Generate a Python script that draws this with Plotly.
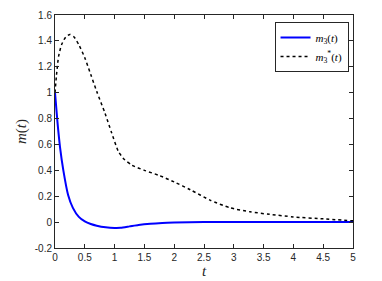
import plotly.graph_objects as go

t_m3 = [0, 0.04, 0.084, 0.14, 0.22, 0.3, 0.4, 0.5, 0.6, 0.7, 0.85, 1.0, 1.1, 1.25, 1.4, 1.6, 1.8, 2.0, 2.5, 3.0, 4.0, 5.0]
m3 = [1.0, 0.78, 0.58, 0.40, 0.21, 0.11, 0.04, 0.005, -0.015, -0.028, -0.04, -0.045, -0.044, -0.033, -0.022, -0.012, -0.006, -0.003, 0.0, 0.001, 0.0, 0.0]

t_m3s = [0, 0.03, 0.06, 0.11, 0.18, 0.25, 0.32, 0.4, 0.5, 0.6, 0.7, 0.84, 0.95, 1.06, 1.15, 1.29, 1.5, 1.75, 2.0, 2.27, 2.6, 2.94, 3.27, 3.6, 4.0, 4.5, 5.0]
m3s = [1.0, 1.16, 1.28, 1.37, 1.43, 1.45, 1.43, 1.37, 1.27, 1.14, 1.01, 0.84, 0.69, 0.55, 0.49, 0.44, 0.40, 0.36, 0.31, 0.25, 0.17, 0.11, 0.08, 0.06, 0.04, 0.025, 0.01]

x_ticks = [0, 0.5, 1, 1.5, 2, 2.5, 3, 3.5, 4, 4.5, 5]
x_labels = ["0", "0.5", "1", "1.5", "2", "2.5", "3", "3.5", "4", "4.5", "5"]
y_ticks = [-0.2, 0, 0.2, 0.4, 0.6, 0.8, 1, 1.2, 1.4, 1.6]
y_labels = ["-0.2", "0", "0.2", "0.4", "0.6", "0.8", "1", "1.2", "1.4", "1.6"]

fig = go.Figure()
fig.add_trace(go.Scatter(x=t_m3, y=m3, mode="lines", line=dict(color="#0000ff", width=2, shape="spline", smoothing=0.6),
                         name="<i>m</i><sub>3</sub>(<i>t</i>)"))
fig.add_trace(go.Scatter(x=t_m3s, y=m3s, mode="lines", line=dict(color="#000000", width=1.5, dash="dot", shape="spline", smoothing=0.6),
                         name="<i>m</i><sub>3</sub><sup>*</sup>(<i>t</i>)"))

axis_common = dict(showgrid=False, zeroline=False, showline=True, linecolor="#262626", linewidth=1,
                   mirror="ticks", ticks="inside", ticklen=4, tickcolor="#262626", automargin=False,
                   tickfont=dict(family="Liberation Sans, Arial", size=10, color="#262626"))

fig.update_xaxes(range=[0, 5], tickvals=x_ticks, ticktext=x_labels,
                 title=dict(text="<i>t</i>", font=dict(family="Liberation Serif, Times New Roman", size=15, color="#262626"), standoff=2),
                 **axis_common)
fig.update_yaxes(range=[-0.2, 1.6], tickvals=y_ticks, ticktext=y_labels,
                 title=dict(text="<i>m</i>(<i>t</i>)", font=dict(family="Liberation Serif, Times New Roman", size=15, color="#262626"), standoff=4),
                 **axis_common)

fig.update_layout(
    width=382, height=281,
    margin=dict(l=47, r=37, t=7, b=41),
    paper_bgcolor="white", plot_bgcolor="white",
    legend=dict(x=0.985, y=0.97, xanchor="right", yanchor="top",
                bgcolor="white", bordercolor="#262626", borderwidth=1,
                font=dict(family="Liberation Serif, Times New Roman", size=11, color="#000000"),
                tracegroupgap=0, itemwidth=30),
    showlegend=True,
)

fig.write_html("out.html")
